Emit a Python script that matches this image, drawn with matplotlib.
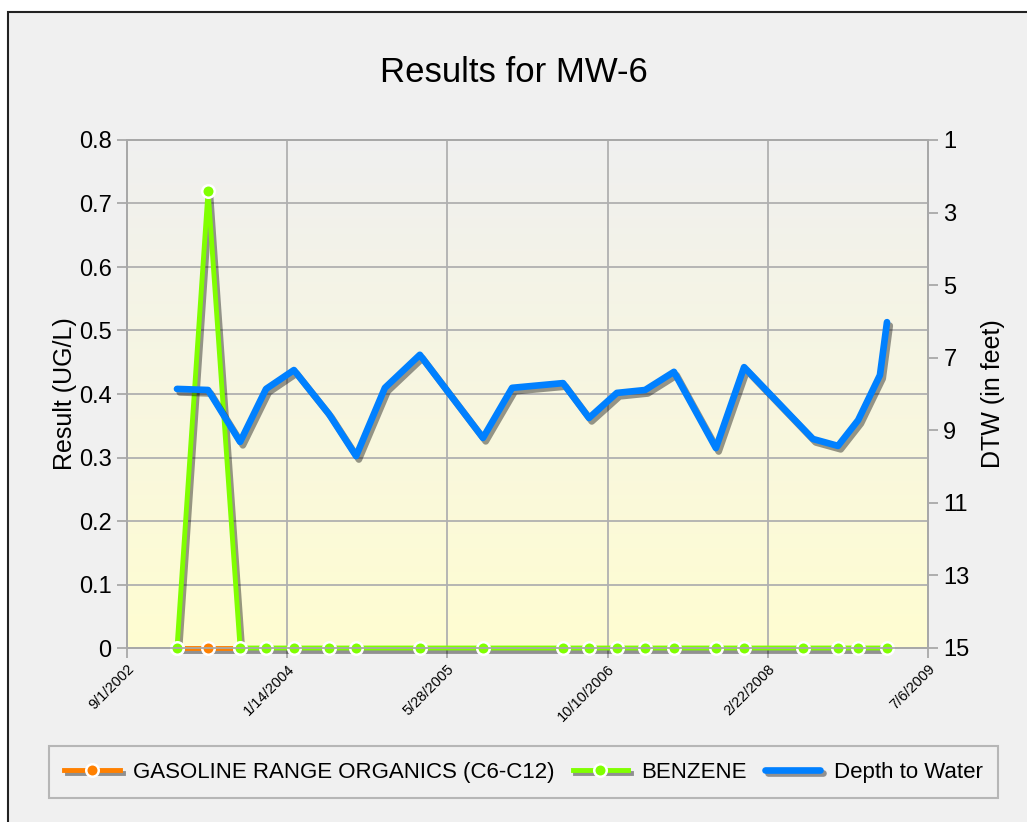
# Results for MW-6 : benzene / GRO results with depth to water on a second axis

import numpy as np
import pandas as pd
from matplotlib import pyplot as plt
from matplotlib import patheffects as pe
from matplotlib.patches import Rectangle

plt.rcParams['font.family'] = ['Liberation Sans', 'DejaVu Sans']

gro_dates = ['2003-02-04', '2003-05-12', '2003-08-20']
gro_values = [0.0, 0.0, 0.0]

benzene_dates = ['2003-02-04', '2003-05-12', '2003-08-20', '2003-11-09',
                 '2004-02-04', '2004-05-23', '2004-08-16', '2005-03-03',
                 '2005-09-16', '2006-05-24', '2006-08-13', '2006-11-08',
                 '2007-02-04', '2007-05-05', '2007-09-13', '2007-12-10',
                 '2008-06-11', '2008-09-28', '2008-11-30', '2009-02-28']
benzene_values = [0.0, 0.72, 0.0, 0.0, 0.0, 0.0, 0.0, 0.0, 0.0, 0.0,
                  0.0, 0.0, 0.0, 0.0, 0.0, 0.0, 0.0, 0.0, 0.0, 0.0]

dtw_dates = ['2003-02-04', '2003-05-12', '2003-08-20', '2003-11-09',
             '2004-02-04', '2004-05-23', '2004-08-16', '2004-11-14',
             '2005-03-03', '2005-09-16', '2005-12-16', '2006-05-24',
             '2006-08-13', '2006-11-08', '2007-02-04', '2007-05-05',
             '2007-09-13', '2007-12-10', '2008-07-12', '2008-09-28',
             '2008-11-30', '2009-02-06', '2009-02-28']
dtw_values = [7.86, 7.89, 9.32, 7.86, 7.34, 8.55, 9.71, 7.83, 6.92, 9.21,
              7.83, 7.70, 8.66, 7.97, 7.89, 7.39, 9.49, 7.26, 9.24, 9.43,
              8.72, 7.48, 6.02]

x_ticks = ['2002-09-01', '2004-01-14', '2005-05-28', '2006-10-10',
           '2008-02-22', '2009-07-06']
x_tick_labels = ['9/1/2002', '1/14/2004', '5/28/2005', '10/10/2006',
                 '2/22/2008', '7/6/2009']
left_ticks = [0, 0.1, 0.2, 0.3, 0.4, 0.5, 0.6, 0.7, 0.8]
right_ticks = [1, 3, 5, 7, 9, 11, 13, 15]

bg = '#f0f0f0'
edge = '#a8a8a8'

fig = plt.figure(figsize=(10.27, 8.22), dpi=100, facecolor='white')
fig.patches.append(Rectangle((8 / 1027, -0.01), 1.0, 1 - 12 / 822 + 0.01,
                             transform=fig.transFigure, facecolor=bg,
                             edgecolor='#222222', linewidth=1.5, zorder=-10))

ax = fig.add_axes([127 / 1027, 1 - 648 / 822, 801 / 1027, 508 / 822])
ax2 = ax.twinx()

# gradient background
grad = np.linspace(0, 1, 256)[:, None]
top = np.array([0.94, 0.94, 0.94])
bottom = np.array([1.0, 0.992, 0.82])
img = top[None, None, :] * (1 - grad[:, :, None]) + bottom[None, None, :] * grad[:, :, None]
ax.imshow(img, extent=(0, 1, 0, 1), transform=ax.transAxes, aspect='auto',
          zorder=0)

shadow = [pe.SimpleLineShadow(offset=(2, -2.5), shadow_color='black', alpha=0.4),
          pe.Normal()]


def series(a, dates, values, color, label, z):
    d = pd.to_datetime(dates)
    ln, = a.plot(d, values, color=color, linewidth=3.5, path_effects=shadow,
                 zorder=z, clip_on=False)
    mk, = a.plot(d, values, linestyle='none', marker='o', markersize=9,
                 markerfacecolor=color, markeredgecolor='white',
                 markeredgewidth=1.8, zorder=z + 0.5, clip_on=False)
    return (ln, mk), label


xd = pd.to_datetime(x_ticks)
h_gro = series(ax, gro_dates, gro_values, '#ff8000',
               'GASOLINE RANGE ORGANICS (C6-C12)', 3)
h_bz = series(ax, benzene_dates, benzene_values, '#80ff00', 'BENZENE', 4)
dtw_line, = ax2.plot(pd.to_datetime(dtw_dates), dtw_values, color='#0080ff',
                     linewidth=4.8, solid_capstyle='round',
                     solid_joinstyle='round', path_effects=shadow)

ax.set_xlim(xd[0], xd[-1])
ax.set_xticks(xd)
ax.set_xticklabels(x_tick_labels, rotation=45, ha='right',
                   rotation_mode='anchor', fontsize=10.5)
ax.set_ylim(0, 0.8)
ax.set_yticks(left_ticks)
ax.set_yticklabels(['0', '0.1', '0.2', '0.3', '0.4', '0.5', '0.6', '0.7', '0.8'],
                   fontsize=17)
ax2.set_ylim(15, 1)
ax2.set_yticks(right_ticks)
ax2.set_yticklabels([str(t) for t in right_ticks], fontsize=17)

ax.grid(True, color='#b0b0b0', linewidth=1.3)
ax.set_axisbelow(True)
for a in (ax, ax2):
    for s in a.spines.values():
        s.set_color(edge)
        s.set_linewidth(1.3)
    a.tick_params(length=7, width=1.3, color=edge, pad=4)
ax.tick_params(axis='x', pad=3)

ax.set_ylabel('Result (UG/L)', fontsize=18, labelpad=1)
ax2.set_ylabel('DTW (in feet)', fontsize=18, labelpad=8)
fig.text(0.5, 1 - 72 / 822, 'Results for MW-6', fontsize=25,
         ha='center', va='center')

dtw_handle = plt.Line2D([], [], color='#0080ff', linewidth=4.8,
                        solid_capstyle='round', path_effects=shadow)
leg = fig.legend([h_gro[0], h_bz[0], dtw_handle],
                 [h_gro[1], h_bz[1], 'Depth to Water'], loc='center',
                 bbox_to_anchor=(523.5 / 1027, 1 - 772 / 822), ncol=3,
                 fontsize=16, frameon=True, fancybox=False, borderpad=0.7,
                 handlelength=2.5, handletextpad=0.6, columnspacing=0.8,
                 borderaxespad=0)
leg.get_frame().set_edgecolor(edge)
leg.get_frame().set_facecolor(bg)
leg.get_frame().set_linewidth(1.5)

plt.savefig('out.png', dpi=100, facecolor=fig.get_facecolor())
plt.close()
